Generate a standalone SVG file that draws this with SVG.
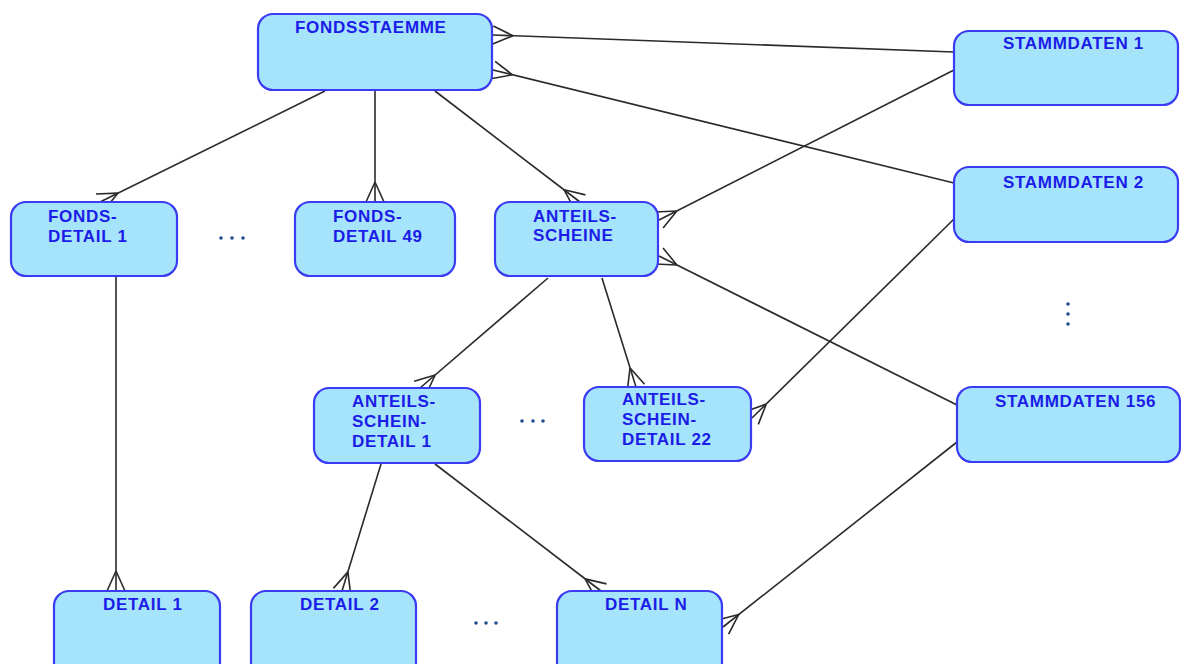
<svg xmlns="http://www.w3.org/2000/svg" width="1181" height="664" viewBox="0 0 1181 664">
<defs>
<style>
.box{fill:#a6e4fb;stroke:#3b3bf2;stroke-width:2.2}
.lbl{font-family:"Liberation Sans",Arial,sans-serif;font-weight:bold;font-size:17px;letter-spacing:0.7px;fill:#1c1ce8}
.con line{stroke:#2a2a2a;stroke-width:1.6;marker-end:url(#crow)}
.dot{fill:#204e8c}
</style>
<marker id="crow" markerUnits="userSpaceOnUse" markerWidth="24" markerHeight="24" refX="20" refY="12" orient="auto" viewBox="0 0 24 24" overflow="visible">
<path d="M0,12 L20,3 M0,12 L20,21" stroke="#2a2a2a" stroke-width="1.6" fill="none"/>
</marker>
</defs>
<rect width="1181" height="664" fill="#fff"/>
<g id="connectors" class="con">
<line x1="325" y1="91" x2="100" y2="202"/>
<line x1="375" y1="91" x2="375" y2="202"/>
<line x1="435" y1="91" x2="580" y2="202"/>
<line x1="954" y1="52" x2="493" y2="35"/>
<line x1="954" y1="183" x2="493" y2="70"/>
<line x1="954" y1="70" x2="659" y2="220"/>
<line x1="957" y1="405" x2="659" y2="256"/>
<line x1="548" y1="278" x2="420" y2="388"/>
<line x1="602" y1="278" x2="636" y2="387"/>
<line x1="954" y1="219" x2="752" y2="418"/>
<line x1="116" y1="277" x2="116" y2="591"/>
<line x1="381" y1="464" x2="342" y2="591"/>
<line x1="435" y1="464" x2="601" y2="591"/>
<line x1="957" y1="442" x2="723" y2="627"/>
</g>
<g id="fondsstaemme"><rect class="box" x="258" y="14" width="234" height="76" rx="15"/><text class="lbl" x="295" y="33">FONDSSTAEMME</text></g>
<g id="stammdaten1"><rect class="box" x="954" y="31" width="224" height="74" rx="15"/><text class="lbl" x="1003" y="49">STAMMDATEN 1</text></g>
<g id="stammdaten2"><rect class="box" x="954" y="167" width="224" height="75" rx="15"/><text class="lbl" x="1003" y="188">STAMMDATEN 2</text></g>
<g id="stammdaten156"><rect class="box" x="957" y="387" width="223" height="75" rx="15"/><text class="lbl" x="995" y="407">STAMMDATEN 156</text></g>
<g id="fondsdetail1"><rect class="box" x="11" y="202" width="166" height="74" rx="15"/><text class="lbl" x="48" y="222">FONDS-</text><text class="lbl" x="48" y="242">DETAIL 1</text></g>
<g id="fondsdetail49"><rect class="box" x="295" y="202" width="160" height="74" rx="15"/><text class="lbl" x="333" y="222">FONDS-</text><text class="lbl" x="333" y="242">DETAIL 49</text></g>
<g id="anteilsscheine"><rect class="box" x="495" y="202" width="163" height="74" rx="15"/><text class="lbl" x="533" y="222">ANTEILS-</text><text class="lbl" x="533" y="241">SCHEINE</text></g>
<g id="anteilsscheindetail1"><rect class="box" x="314" y="388" width="166" height="75" rx="15"/><text class="lbl" x="352" y="407">ANTEILS-</text><text class="lbl" x="352" y="427">SCHEIN-</text><text class="lbl" x="352" y="447">DETAIL 1</text></g>
<g id="anteilsscheindetail22"><rect class="box" x="584" y="387" width="167" height="74" rx="15"/><text class="lbl" x="622" y="405">ANTEILS-</text><text class="lbl" x="622" y="425">SCHEIN-</text><text class="lbl" x="622" y="445">DETAIL 22</text></g>
<g id="detail1"><rect class="box" x="54" y="591" width="166" height="90" rx="15"/><text class="lbl" x="103" y="610">DETAIL 1</text></g>
<g id="detail2"><rect class="box" x="251" y="591" width="165" height="90" rx="15"/><text class="lbl" x="300" y="610">DETAIL 2</text></g>
<g id="detailn"><rect class="box" x="557" y="591" width="165" height="90" rx="15"/><text class="lbl" x="605" y="610">DETAIL N</text></g>
<g id="ellipses">
<circle class="dot" cx="221" cy="238" r="1.8"/><circle class="dot" cx="232" cy="238" r="1.8"/><circle class="dot" cx="243" cy="238" r="1.8"/>
<circle class="dot" cx="522" cy="421" r="1.8"/><circle class="dot" cx="533" cy="421" r="1.8"/><circle class="dot" cx="543" cy="421" r="1.8"/>
<circle class="dot" cx="476" cy="623" r="1.8"/><circle class="dot" cx="486" cy="623" r="1.8"/><circle class="dot" cx="496" cy="623" r="1.8"/>
<circle class="dot" cx="1068" cy="304" r="1.8"/><circle class="dot" cx="1068" cy="314" r="1.8"/><circle class="dot" cx="1068" cy="324" r="1.8"/>
</g>
</svg>
